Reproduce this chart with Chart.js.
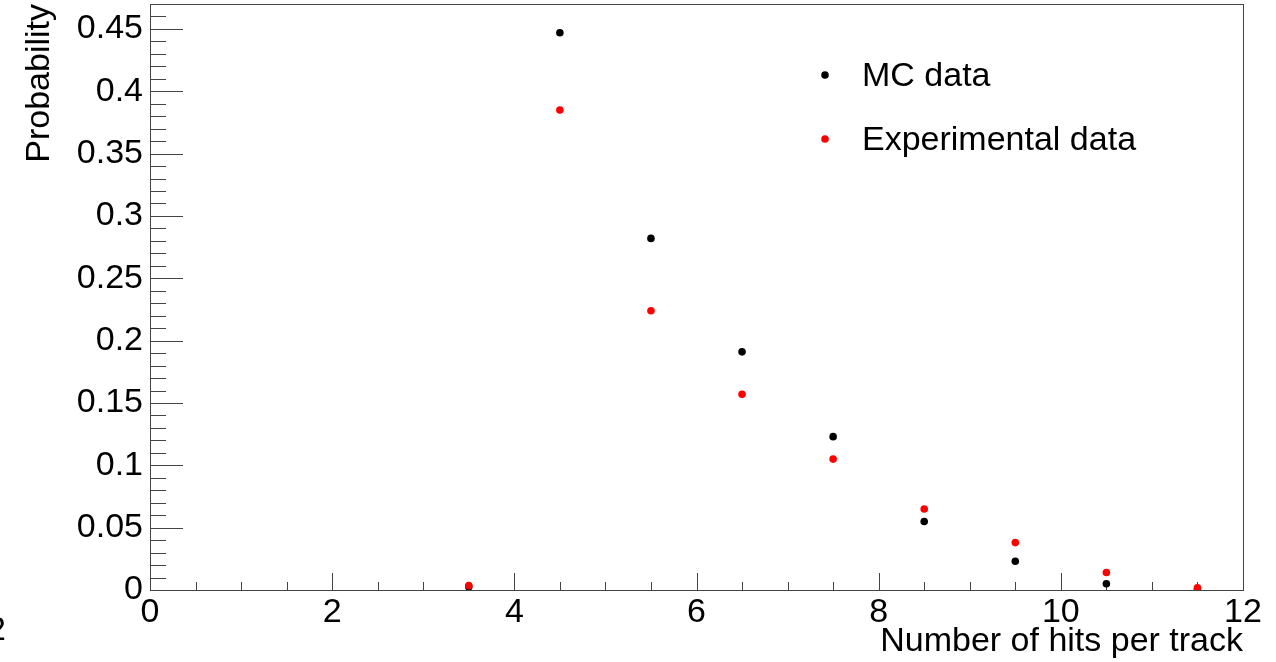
<!DOCTYPE html>
<html lang="en">
	<head>
		<meta charset="utf-8">
		<title>Number of hits per track</title>
		<script src="https://cdn.jsdelivr.net/npm/chart.js"></script>
		<style>
			html, body { margin: 0; padding: 0; background: #fff; }
			#wrap { width: 1276px; height: 662px; position: relative; }
		</style>
	</head>
	<body>
		<div id="wrap"><canvas id="chart"></canvas></div>
		<script>
			// bin centres and probabilities
			const hitBins = [3.5, 4.5, 5.5, 6.5, 7.5, 8.5, 9.5, 10.5, 11.5]
			const mcValues = [0.0025, 0.447, 0.282, 0.191, 0.123, 0.055, 0.023, 0.005, 0.0003]
			const expValues = [0.0035, 0.385, 0.224, 0.157, 0.105, 0.065, 0.038, 0.014, 0.0018]
			const seriesLabels = ["MC data", "Experimental data"]
			const seriesColors = ["#000000", "#ff0000"]

			const xTickValues = [0, 2, 4, 6, 8, 10, 12]
			const xTickLabels = ["0", "2", "4", "6", "8", "10", "12"]
			const yTickValues = [0, 0.05, 0.1, 0.15, 0.2, 0.25, 0.3, 0.35, 0.4, 0.45]
			const yTickLabels = ["0", "0.05", "0.1", "0.15", "0.2", "0.25", "0.3", "0.35", "0.4", "0.45"]

			const xMin = 0, xMax = 12, xMinorStep = 0.5
			const yMin = 0, yMax = 0.47, yMinorStep = 0.01

			const font = "'Liberation Sans', Arial, Helvetica, sans-serif"
			const axisColor = "#444"

			function points(values) {
				return hitBins.map((x, i) => ({x: x, y: values[i]}))
			}

			// ROOT style frame with inward ticks, plus the legend box
			const rootFrame = {
				id: "rootFrame",
				beforeDatasetsDraw(chart) {
					const ctx = chart.ctx
					const a = chart.chartArea
					const xs = chart.scales.x
					const ys = chart.scales.y
					ctx.save()
					ctx.strokeStyle = axisColor
					ctx.lineWidth = 1
					ctx.strokeRect(Math.round(a.left) + 0.5, Math.round(a.top) + 0.5,
						Math.round(a.right - a.left), Math.round(a.bottom - a.top))

					ctx.beginPath()
					for (let v = xMin; v <= xMax + 1e-9; v += xMinorStep) {
						const px = Math.round(xs.getPixelForValue(v)) + 0.5
						const len = xTickValues.includes(Math.round(v * 100) / 100) ? 17 : 8
						ctx.moveTo(px, a.bottom)
						ctx.lineTo(px, a.bottom - len)
					}
					for (let i = 0; yMin + i * yMinorStep <= yMax + 1e-9; i++) {
						const v = Math.round((yMin + i * yMinorStep) * 1000) / 1000
						const py = Math.round(ys.getPixelForValue(v)) + 0.5
						const len = (i % 5 === 0) ? 33 : 16
						ctx.moveTo(a.left, py)
						ctx.lineTo(a.left + len, py)
					}
					ctx.stroke()
					ctx.restore()
				},
				afterDraw(chart) {
					const ctx = chart.ctx
					ctx.save()
					ctx.font = "34px " + font
					ctx.textBaseline = "middle"
					ctx.textAlign = "left"
					const rows = [75, 139]
					chart.data.datasets.slice().sort((p, q) => p.legendIndex - q.legendIndex).forEach((ds, i) => {
						ctx.fillStyle = ds.backgroundColor
						ctx.beginPath()
						ctx.arc(825, rows[i], 3.8, 0, Math.PI * 2)
						ctx.fill()
						ctx.fillStyle = "#000"
						ctx.fillText(ds.label, 862, rows[i] + 2)
					})
					// clipped label sitting at the very left edge of the picture
					ctx.font = "34px " + font
					ctx.textAlign = "right"
					ctx.textBaseline = "alphabetic"
					ctx.fillText("2", 6, 640)
					ctx.restore()
				}
			}

			new Chart(document.getElementById("chart").getContext("2d"), {
				type: "scatter",
				data: {
					datasets: [{
						label: seriesLabels[1],
						data: points(expValues),
						backgroundColor: seriesColors[1],
						borderWidth: 0,
						pointRadius: 3.8,
						legendIndex: 1
					}, {
						label: seriesLabels[0],
						data: points(mcValues),
						backgroundColor: seriesColors[0],
						borderWidth: 0,
						pointRadius: 3.8,
						legendIndex: 0
					}]
				},
				options: {
					responsive: true,
					maintainAspectRatio: false,
					animation: false,
					layout: {
						padding: {left: 0, right: 33, top: 4, bottom: 0}
					},
					scales: {
						x: {
							type: "linear",
							position: "bottom",
							min: xMin,
							max: xMax,
							grid: {display: false, drawTicks: false},
							border: {display: false},
							afterBuildTicks: s => { s.ticks = xTickValues.map(v => ({value: v})) },
							afterFit: s => {
								s.height = 72
								s.paddingLeft = 0
								s.paddingRight = 0
							},
							ticks: {
								color: "#000",
								padding: 2,
								maxRotation: 0,
								autoSkip: false,
								font: {family: font, size: 34},
								callback: (v, i) => xTickLabels[i]
							},
							title: {
								display: true,
								text: "Number of hits per track",
								align: "end",
								color: "#000",
								font: {family: font, size: 34},
								padding: {top: 0, bottom: 0}
							}
						},
						y: {
							type: "linear",
							position: "left",
							min: yMin,
							max: yMax,
							grid: {display: false, drawTicks: false},
							border: {display: false},
							afterBuildTicks: s => { s.ticks = yTickValues.map(v => ({value: v})) },
							afterFit: s => {
								s.width = 150
								s.paddingTop = 0
								s.paddingBottom = 0
							},
							ticks: {
								color: "#000",
								padding: 7,
								autoSkip: false,
								font: {family: font, size: 34},
								callback: (v, i) => yTickLabels[i]
							},
							title: {
								display: true,
								text: "Probability",
								align: "end",
								color: "#000",
								font: {family: font, size: 34},
								padding: {top: 19, bottom: 0}
							}
						}
					},
					plugins: {
						legend: {display: false},
						tooltip: {enabled: false}
					}
				},
				plugins: [rootFrame]
			})
		</script>
	</body>
</html>
